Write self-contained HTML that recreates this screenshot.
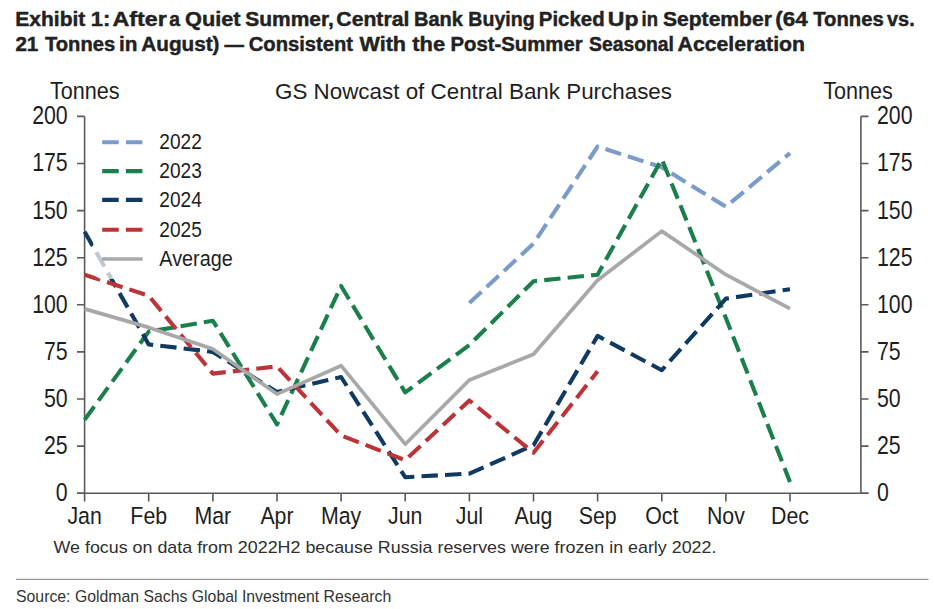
<!DOCTYPE html>
<html><head><meta charset="utf-8"><style>
html,body{margin:0;padding:0;background:#fff;width:934px;height:609px;overflow:hidden}
svg{position:absolute;left:0;top:0}
text{font-family:"Liberation Sans",sans-serif}
.lab{fill:#1e1e1e}
.note{fill:#2e2e2e}
.ttl{font-weight:bold;fill:#222;stroke:#222;stroke-width:0.45px}
.src{fill:#333}
</style></head><body>
<svg width="934" height="609" viewBox="0 0 934 609">
<path d="M84.6,116.4 V493.2 M860.9,116.4 V493.2 M77,493.2 H868.5" stroke="#5a5a5a" stroke-width="1.6" fill="none"/>
<path d="M77,493.2 H84.6 M860.9,493.2 H868.5 M77,446.1 H84.6 M860.9,446.1 H868.5 M77,399.0 H84.6 M860.9,399.0 H868.5 M77,351.9 H84.6 M860.9,351.9 H868.5 M77,304.8 H84.6 M860.9,304.8 H868.5 M77,257.7 H84.6 M860.9,257.7 H868.5 M77,210.6 H84.6 M860.9,210.6 H868.5 M77,163.5 H84.6 M860.9,163.5 H868.5 M77,116.4 H84.6 M860.9,116.4 H868.5 M84.6,493.2 V501.4 M148.7,493.2 V501.4 M212.9,493.2 V501.4 M277.0,493.2 V501.4 M341.1,493.2 V501.4 M405.2,493.2 V501.4 M469.4,493.2 V501.4 M533.5,493.2 V501.4 M597.6,493.2 V501.4 M661.8,493.2 V501.4 M725.9,493.2 V501.4 M790.0,493.2 V501.4" stroke="#5a5a5a" stroke-width="1.6" fill="none"/>
<text transform="translate(67.70,501.10) scale(0.8330,1)" class="lab" font-size="25.6" text-anchor="end">0</text>
<text transform="translate(877.00,501.10) scale(0.8330,1)" class="lab" font-size="25.6">0</text>
<text transform="translate(67.70,454.00) scale(0.8330,1)" class="lab" font-size="25.6" text-anchor="end">25</text>
<text transform="translate(877.00,454.00) scale(0.8330,1)" class="lab" font-size="25.6">25</text>
<text transform="translate(67.70,406.90) scale(0.8330,1)" class="lab" font-size="25.6" text-anchor="end">50</text>
<text transform="translate(877.00,406.90) scale(0.8330,1)" class="lab" font-size="25.6">50</text>
<text transform="translate(67.70,359.80) scale(0.8330,1)" class="lab" font-size="25.6" text-anchor="end">75</text>
<text transform="translate(877.00,359.80) scale(0.8330,1)" class="lab" font-size="25.6">75</text>
<text transform="translate(67.70,312.70) scale(0.8330,1)" class="lab" font-size="25.6" text-anchor="end">100</text>
<text transform="translate(877.00,312.70) scale(0.8330,1)" class="lab" font-size="25.6">100</text>
<text transform="translate(67.70,265.60) scale(0.8330,1)" class="lab" font-size="25.6" text-anchor="end">125</text>
<text transform="translate(877.00,265.60) scale(0.8330,1)" class="lab" font-size="25.6">125</text>
<text transform="translate(67.70,218.50) scale(0.8330,1)" class="lab" font-size="25.6" text-anchor="end">150</text>
<text transform="translate(877.00,218.50) scale(0.8330,1)" class="lab" font-size="25.6">150</text>
<text transform="translate(67.70,171.40) scale(0.8330,1)" class="lab" font-size="25.6" text-anchor="end">175</text>
<text transform="translate(877.00,171.40) scale(0.8330,1)" class="lab" font-size="25.6">175</text>
<text transform="translate(67.70,124.30) scale(0.8330,1)" class="lab" font-size="25.6" text-anchor="end">200</text>
<text transform="translate(877.00,124.30) scale(0.8330,1)" class="lab" font-size="25.6">200</text>
<text transform="translate(84.60,524.10) scale(0.8700,1)" class="lab" font-size="24.5" text-anchor="middle">Jan</text>
<text transform="translate(148.73,524.10) scale(0.8700,1)" class="lab" font-size="24.5" text-anchor="middle">Feb</text>
<text transform="translate(212.86,524.10) scale(0.8700,1)" class="lab" font-size="24.5" text-anchor="middle">Mar</text>
<text transform="translate(276.99,524.10) scale(0.8700,1)" class="lab" font-size="24.5" text-anchor="middle">Apr</text>
<text transform="translate(341.12,524.10) scale(0.8700,1)" class="lab" font-size="24.5" text-anchor="middle">May</text>
<text transform="translate(405.25,524.10) scale(0.8700,1)" class="lab" font-size="24.5" text-anchor="middle">Jun</text>
<text transform="translate(469.38,524.10) scale(0.8700,1)" class="lab" font-size="24.5" text-anchor="middle">Jul</text>
<text transform="translate(533.51,524.10) scale(0.8700,1)" class="lab" font-size="24.5" text-anchor="middle">Aug</text>
<text transform="translate(597.64,524.10) scale(0.8700,1)" class="lab" font-size="24.5" text-anchor="middle">Sep</text>
<text transform="translate(661.77,524.10) scale(0.8700,1)" class="lab" font-size="24.5" text-anchor="middle">Oct</text>
<text transform="translate(725.90,524.10) scale(0.8700,1)" class="lab" font-size="24.5" text-anchor="middle">Nov</text>
<text transform="translate(790.03,524.10) scale(0.8700,1)" class="lab" font-size="24.5" text-anchor="middle">Dec</text>
<polyline points="469.4,302.9 533.5,243.6 597.6,146.5 661.8,167.3 725.9,206.8 790.0,153.1" stroke="#7b9bc8" stroke-width="4.1" fill="none" stroke-linejoin="round" stroke-dasharray="16.4 7.15" stroke-dashoffset="0"/>
<polyline points="84.6,419.7 148.7,331.6 212.9,320.8 277.0,424.4 341.1,286.0 405.2,392.4 469.4,344.9 533.5,281.2 597.6,274.7 661.8,159.2 725.9,318.0 790.0,481.9" stroke="#1b7f4c" stroke-width="4.1" fill="none" stroke-linejoin="round" stroke-dasharray="16.4 7.15" stroke-dashoffset="0"/>
<polyline points="84.6,231.7 148.7,344.4 212.9,351.9 277.0,392.0 341.1,377.0 405.2,477.2 469.4,473.6 533.5,445.2 597.6,335.9 661.8,370.2 725.9,298.6 790.0,289.2" stroke="#0f3a63" stroke-width="4.1" fill="none" stroke-linejoin="round" stroke-dasharray="16.4 7.15" stroke-dashoffset="0"/>
<polyline points="84.6,274.7 148.7,295.8 212.9,373.6 277.0,366.4 341.1,435.5 405.2,460.2 469.4,400.5 533.5,452.7 597.6,371.3" stroke="#bd3438" stroke-width="4.1" fill="none" stroke-linejoin="round" stroke-dasharray="16.4 7.15" stroke-dashoffset="0"/>
<polyline points="84.6,308.9 148.7,327.4 212.9,349.1 277.0,394.1 341.1,365.7 405.2,444.2 469.4,380.0 533.5,354.3 597.6,280.3 661.8,231.1 725.9,274.7 790.0,308.6" stroke="#a8a8a8" stroke-width="3.7" fill="none" stroke-linejoin="round"/>
<rect x="93" y="122" width="150" height="157" rx="9" ry="9" fill="#fff" fill-opacity="0.72"/>
<path d="M102.2,142.2 H118.7 M125.9,142.2 H142.4" stroke="#7b9bc8" stroke-width="4.1"/>
<text transform="translate(159.30,149.20) scale(0.8850,1)" class="lab" font-size="21.6">2022</text>
<path d="M102.2,171.1 H118.7 M125.9,171.1 H142.4" stroke="#1b7f4c" stroke-width="4.1"/>
<text transform="translate(159.30,178.10) scale(0.8850,1)" class="lab" font-size="21.6">2023</text>
<path d="M102.2,199.9 H118.7 M125.9,199.9 H142.4" stroke="#0f3a63" stroke-width="4.1"/>
<text transform="translate(159.30,206.90) scale(0.8850,1)" class="lab" font-size="21.6">2024</text>
<path d="M102.2,229.8 H118.7 M125.9,229.8 H142.4" stroke="#bd3438" stroke-width="4.1"/>
<text transform="translate(159.30,236.80) scale(0.8850,1)" class="lab" font-size="21.6">2025</text>
<path d="M102.0,259.0 H142.6" stroke="#a8a8a8" stroke-width="3.7"/>
<text transform="translate(159.30,266.00) scale(0.9177,1)" class="lab" font-size="21.6">Average</text>
<text transform="translate(50.00,99.40) scale(0.9000,1)" class="lab" font-size="24.0">Tonnes</text>
<text transform="translate(823.20,99.40) scale(0.9000,1)" class="lab" font-size="24.0">Tonnes</text>
<text transform="translate(275.00,99.40)" class="lab" font-size="22.4">GS Nowcast of Central Bank Purchases</text>
<text transform="translate(53.50,552.80) scale(1.1170,1)" class="note" font-size="16.0">We focus on data from 2022H2 because Russia reserves were frozen in early 2022.</text>
<text transform="translate(15.37,25.90) scale(1.0299,1)" class="ttl" font-size="20.4">Exhibit</text>
<text transform="translate(90.73,25.90) scale(1.0733,1)" class="ttl" font-size="20.4">1:</text>
<text transform="translate(112.56,25.90) scale(1.1404,1)" class="ttl" font-size="20.4">After</text>
<text transform="translate(169.15,25.90) scale(0.9455,1)" class="ttl" font-size="20.4">a</text>
<text transform="translate(185.04,25.90) scale(1.0647,1)" class="ttl" font-size="20.4">Quiet</text>
<text transform="translate(245.27,25.90) scale(1.0274,1)" class="ttl" font-size="20.4">Summer,</text>
<text transform="translate(336.36,25.90) scale(1.0382,1)" class="ttl" font-size="20.4">Central</text>
<text transform="translate(414.02,25.90) scale(0.9796,1)" class="ttl" font-size="20.4">Bank</text>
<text transform="translate(468.34,25.90) scale(0.9597,1)" class="ttl" font-size="20.4">Buying</text>
<text transform="translate(538.80,25.90) scale(1.0016,1)" class="ttl" font-size="20.4">Picked</text>
<text transform="translate(607.87,25.90) scale(1.1269,1)" class="ttl" font-size="20.4">Up</text>
<text transform="translate(641.59,25.90) scale(0.9062,1)" class="ttl" font-size="20.4">in</text>
<text transform="translate(662.97,25.90) scale(1.0337,1)" class="ttl" font-size="20.4">September</text>
<text transform="translate(775.30,25.90) scale(1.1034,1)" class="ttl" font-size="20.4">(64</text>
<text transform="translate(813.20,25.90) scale(0.9943,1)" class="ttl" font-size="20.4">Tonnes</text>
<text transform="translate(887.00,25.90) scale(0.9778,1)" class="ttl" font-size="20.4">vs.</text>
<text transform="translate(15.39,51.10) scale(1.0095,1)" class="ttl" font-size="20.4">21</text>
<text transform="translate(45.00,51.10) scale(0.9886,1)" class="ttl" font-size="20.4">Tonnes</text>
<text transform="translate(119.08,51.10) scale(1.0188,1)" class="ttl" font-size="20.4">in</text>
<text transform="translate(141.28,51.10) scale(1.0160,1)" class="ttl" font-size="20.4">August)</text>
<text transform="translate(224.40,51.10) scale(0.9524,1)" class="ttl" font-size="20.4">—</text>
<text transform="translate(248.71,51.10) scale(0.9904,1)" class="ttl" font-size="20.4">Consistent</text>
<text transform="translate(359.50,51.10) scale(1.0581,1)" class="ttl" font-size="20.4">With</text>
<text transform="translate(412.30,51.10) scale(1.0733,1)" class="ttl" font-size="20.4">the</text>
<text transform="translate(450.50,51.10) scale(0.9962,1)" class="ttl" font-size="20.4">Post-Summer</text>
<text transform="translate(589.05,51.10) scale(0.9471,1)" class="ttl" font-size="20.4">Seasonal</text>
<text transform="translate(677.56,51.10) scale(1.0408,1)" class="ttl" font-size="20.4">Acceleration</text>
<rect x="16" y="578.8" width="912.5" height="1.1" fill="#8c8c8c"/>
<text transform="translate(16.00,602.00) scale(0.9770,1)" class="src" font-size="16.2">Source: Goldman Sachs Global Investment Research</text>
</svg>
</body></html>
